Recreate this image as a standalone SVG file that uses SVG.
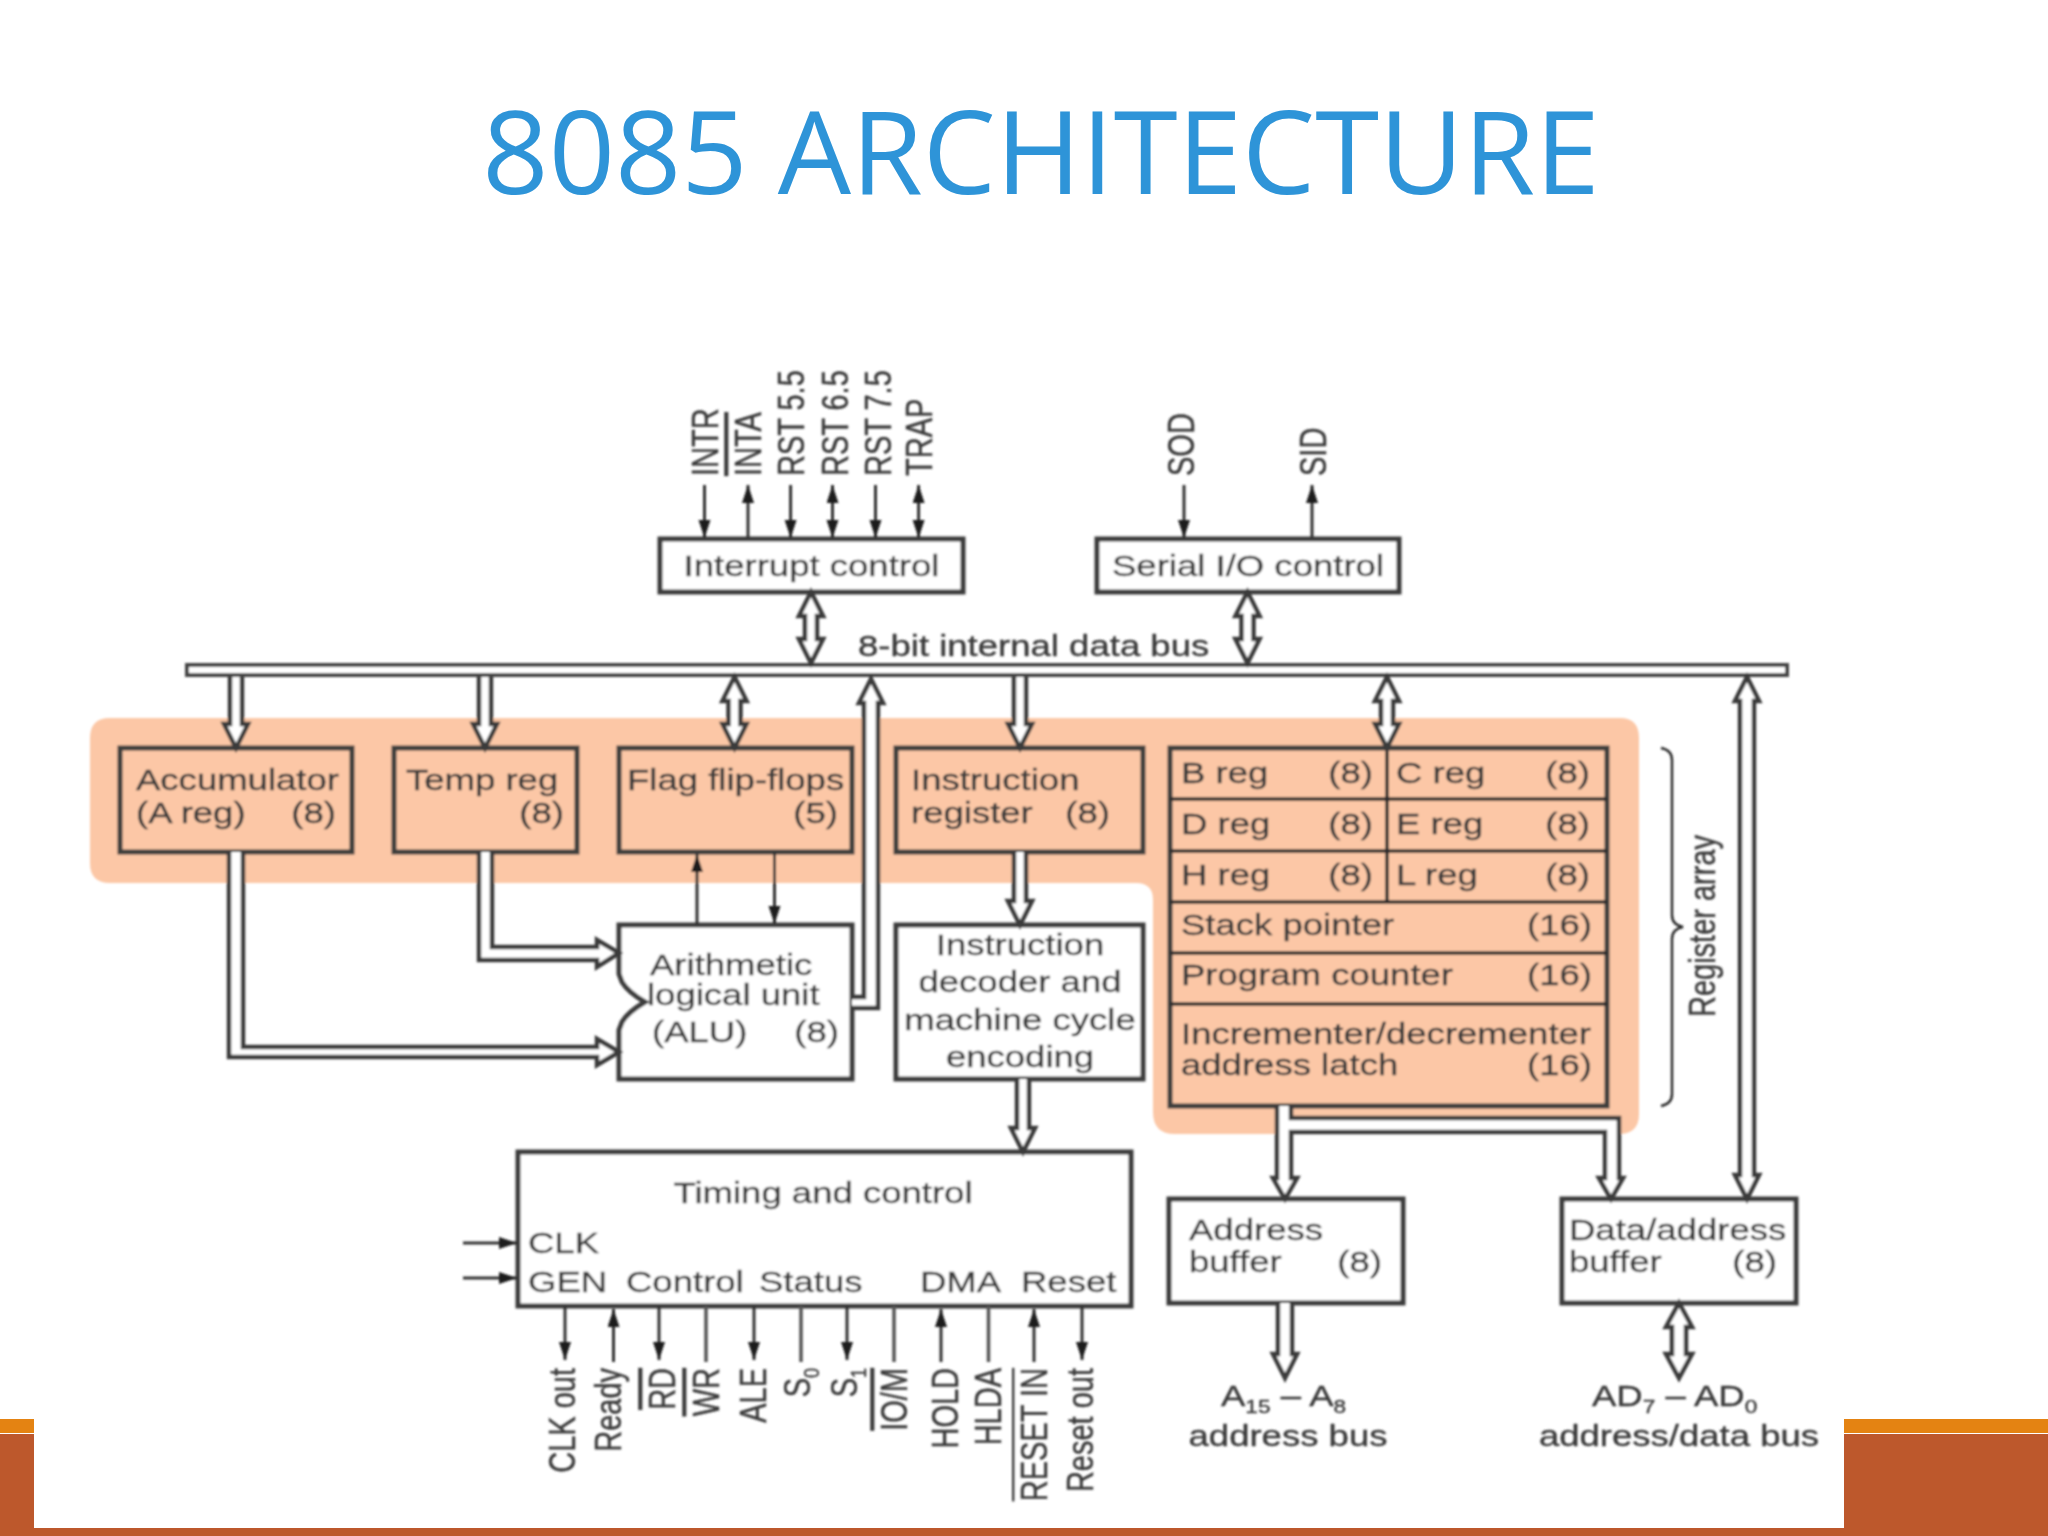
<svg xmlns="http://www.w3.org/2000/svg" width="2048" height="1536" viewBox="0 0 2048 1536">
<style>
text{font-family:"Liberation Sans",Arial,sans-serif;font-size:29px;fill:#3a3a3a;stroke:#3a3a3a;stroke-width:.35}
.title{font-family:"Open Sans","Noto Sans",sans-serif;font-size:116px;fill:#2e94d8;stroke:none;text-anchor:middle}
.e{text-anchor:end}
.m{text-anchor:middle}
.sub{font-size:18px}
.ob{text-decoration:overline}
.box{stroke:#3c3c3c;stroke-width:5}
.peach{fill:#fcc7a6}
.white{fill:#fff}
.line{fill:none;stroke:#2c2c2c;stroke-width:2.500}
.thin{fill:none;stroke:#333;stroke-width:3;marker-end:url(#ah)}
.both{marker-start:url(#ah)}
.plain{fill:none;stroke:#555;stroke-width:3.500}
.hollow{fill:#fff;stroke:#3a3a3a;stroke-width:4.500;stroke-linejoin:miter}
.band-a{fill:#e48312}
.band-b{fill:#bd582c}
</style>
<defs>
<marker id="ah" markerUnits="userSpaceOnUse" markerWidth="20" markerHeight="14" refX="18" refY="6" orient="auto-start-reverse"><path d="M0,0L18,6L0,12z" fill="#1c1c1c"/></marker>
<filter id="soft" x="0" y="0" width="2048" height="1536" filterUnits="userSpaceOnUse"><feGaussianBlur stdDeviation="1"/></filter>
</defs>
<rect width="2048" height="1536" fill="#fff"/>
<g id="slide-bands">
<rect class="band-a" x="0" y="1419" width="34" height="14"/>
<rect class="band-a" x="1844" y="1419" width="204" height="14"/>
<rect class="band-b" x="0" y="1434" width="34" height="102"/>
<rect class="band-b" x="1844" y="1434" width="204" height="102"/>
<rect class="band-b" x="0" y="1528" width="2048" height="8"/>
</g>
<text id="title" class="title" x="1041" y="194">8085 ARCHITECTURE</text>
<g id="diagram" filter="url(#soft)">
<path id="highlight" class="peach" d="M110,718H1620Q1639,718 1639,738V1114Q1639,1134 1619,1134H1175Q1153,1134 1153,1112V900Q1153,883 1136,883H110Q90,883 90,863V738Q90,718 110,718Z"/>

<g id="interrupt-control">
<rect class="box white" x="660" y="539" width="303" height="53"/>
<text transform="translate(811.500 576) scale(1.26 1)" class="m">Interrupt control</text>
</g>
<g id="serial-io-control">
<rect class="box white" x="1097" y="539" width="302" height="53"/>
<text transform="translate(1248 576) scale(1.26 1)" class="m">Serial I/O control</text>
</g>
<g id="internal-data-bus">
<rect x="187" y="665" width="1600" height="10" fill="#fff" stroke="#444" stroke-width="4"/>
<text transform="translate(858 656) scale(1.26 1)">8-bit internal data bus</text>
</g>
<g id="accumulator">
<rect class="box peach" x="120" y="748" width="232" height="104"/>
<text transform="translate(136 790) scale(1.26 1)">Accumulator</text>
<text transform="translate(136 823) scale(1.26 1)">(A reg)</text>
<text transform="translate(336 823) scale(1.26 1)" class="e">(8)</text>
</g>
<g id="temp-reg">
<rect class="box peach" x="394" y="748" width="183" height="104"/>
<text transform="translate(406 790) scale(1.26 1)">Temp reg</text>
<text transform="translate(564 823) scale(1.26 1)" class="e">(8)</text>
</g>
<g id="flag-flip-flops">
<rect class="box peach" x="619" y="748" width="233" height="104"/>
<text transform="translate(627 790) scale(1.26 1)">Flag flip-flops</text>
<text transform="translate(838 823) scale(1.26 1)" class="e">(5)</text>
</g>
<g id="instruction-register">
<rect class="box peach" x="896" y="748" width="247" height="104"/>
<text transform="translate(911 790) scale(1.26 1)">Instruction</text>
<text transform="translate(911 823) scale(1.26 1)">register</text>
<text transform="translate(1110 823) scale(1.26 1)" class="e">(8)</text>
</g>
<g id="register-array">
<rect class="box peach" x="1170" y="748" width="437" height="358"/>
<path class="line" style="stroke-width:3.500" d="M1170,799H1607M1170,851H1607M1170,902H1607M1170,953H1607M1170,1004H1607M1387,748V902"/>
<text transform="translate(1181 783) scale(1.26 1)">B reg</text>
<text transform="translate(1373 783) scale(1.26 1)" class="e">(8)</text>
<text transform="translate(1396 783) scale(1.26 1)">C reg</text>
<text transform="translate(1590 783) scale(1.26 1)" class="e">(8)</text>
<text transform="translate(1181 834) scale(1.26 1)">D reg</text>
<text transform="translate(1373 834) scale(1.26 1)" class="e">(8)</text>
<text transform="translate(1396 834) scale(1.26 1)">E reg</text>
<text transform="translate(1590 834) scale(1.26 1)" class="e">(8)</text>
<text transform="translate(1181 885) scale(1.26 1)">H reg</text>
<text transform="translate(1373 885) scale(1.26 1)" class="e">(8)</text>
<text transform="translate(1396 885) scale(1.26 1)">L reg</text>
<text transform="translate(1590 885) scale(1.26 1)" class="e">(8)</text>
<text transform="translate(1181 935) scale(1.26 1)">Stack pointer</text>
<text transform="translate(1592 935) scale(1.26 1)" class="e">(16)</text>
<text transform="translate(1181 985) scale(1.26 1)">Program counter</text>
<text transform="translate(1592 985) scale(1.26 1)" class="e">(16)</text>
<text transform="translate(1181 1044) scale(1.26 1)">Incrementer/decrementer</text>
<text transform="translate(1181 1075) scale(1.26 1)">address latch</text>
<text transform="translate(1592 1075) scale(1.26 1)" class="e">(16)</text>
</g>
<g id="register-array-brace">
<path class="line" d="M1661,748Q1672,750 1672,760V915Q1672,925 1683,927Q1672,929 1672,939V1094Q1672,1104 1661,1106"/>
<text transform="translate(1715 1017) scale(1.26 1) rotate(-90)">Register array</text>
</g>
<g id="alu">
<path class="box white" d="M619,925H852V1079H619V1030L622,1022Q628,1012 645,1002Q628,992 622,982L619,974Z"/>
<text transform="translate(650 975) scale(1.26 1)">Arithmetic</text>
<text transform="translate(647 1005) scale(1.26 1)">logical unit</text>
<text transform="translate(652 1042) scale(1.26 1)">(ALU)</text>
<text transform="translate(839 1042) scale(1.26 1)" class="e">(8)</text>
</g>
<g id="instruction-decoder">
<rect class="box white" x="896" y="925" width="247" height="154"/>
<text transform="translate(1020 955) scale(1.26 1)" class="m">Instruction</text>
<text transform="translate(1020 992) scale(1.26 1)" class="m">decoder and</text>
<text transform="translate(1020 1030) scale(1.26 1)" class="m">machine cycle</text>
<text transform="translate(1020 1067) scale(1.26 1)" class="m">encoding</text>
</g>
<g id="timing-and-control">
<rect class="box white" x="518" y="1152" width="613" height="154"/>
<text transform="translate(823 1203) scale(1.26 1)" class="m">Timing and control</text>
<text transform="translate(528 1253) scale(1.26 1)">CLK</text>
<text transform="translate(528 1292) scale(1.26 1)">GEN</text>
<text transform="translate(626 1292) scale(1.26 1)">Control</text>
<text transform="translate(759 1292) scale(1.26 1)">Status</text>
<text transform="translate(920 1292) scale(1.26 1)">DMA</text>
<text transform="translate(1021 1292) scale(1.26 1)">Reset</text>
</g>
<g id="address-buffer">
<rect class="box white" x="1169" y="1199" width="234" height="104"/>
<text transform="translate(1189 1240) scale(1.26 1)">Address</text>
<text transform="translate(1189 1272) scale(1.26 1)">buffer</text>
<text transform="translate(1382 1272) scale(1.26 1)" class="e">(8)</text>
</g>
<g id="data-address-buffer">
<rect class="box white" x="1562" y="1199" width="234" height="104"/>
<text transform="translate(1569 1240) scale(1.26 1)">Data/address</text>
<text transform="translate(1569 1272) scale(1.26 1)">buffer</text>
<text transform="translate(1777 1272) scale(1.26 1)" class="e">(8)</text>
</g>
<g id="address-bus-label">
<text transform="translate(1221 1406) scale(1.26 1)">A<tspan class="sub" dy="7">15</tspan><tspan dy="-7"> – A</tspan><tspan class="sub" dy="7">8</tspan></text>
<text transform="translate(1288 1446) scale(1.26 1)" class="m">address bus</text>
</g>
<g id="address-data-bus-label">
<text transform="translate(1592 1406) scale(1.26 1)">AD<tspan class="sub" dy="7">7</tspan><tspan dy="-7"> – AD</tspan><tspan class="sub" dy="7">0</tspan></text>
<text transform="translate(1679 1446) scale(1.26 1)" class="m">address/data bus</text>
</g>
<g id="interrupt-pins">
<text transform="translate(718 476) scale(1.26 1) rotate(-90)">INTR</text>
<text transform="translate(761 476) scale(1.26 1) rotate(-90)" class="ob">INTA</text>
<text transform="translate(804 476) scale(1.26 1) rotate(-90)">RST 5.5</text>
<text transform="translate(848 476) scale(1.26 1) rotate(-90)">RST 6.5</text>
<text transform="translate(891 476) scale(1.26 1) rotate(-90)">RST 7.5</text>
<text transform="translate(932 476) scale(1.26 1) rotate(-90)">TRAP</text>
</g>
<g id="serial-pins">
<text transform="translate(1194 476) scale(1.26 1) rotate(-90)">SOD</text>
<text transform="translate(1326 476) scale(1.26 1) rotate(-90)">SID</text>
</g>
<g id="control-pins">
<text transform="translate(575 1368) scale(1.26 1) rotate(-90)" class="e">CLK out</text>
<text transform="translate(621 1368) scale(1.26 1) rotate(-90)" class="e">Ready</text>
<text transform="translate(675 1368) scale(1.26 1) rotate(-90)" class="e ob">RD</text>
<text transform="translate(719 1368) scale(1.26 1) rotate(-90)" class="e ob">WR</text>
<text transform="translate(766 1368) scale(1.26 1) rotate(-90)" class="e">ALE</text>
<text transform="translate(810 1368) scale(1.26 1) rotate(-90)" class="e">S<tspan class="sub" dy="7">0</tspan></text>
<text transform="translate(857 1368) scale(1.26 1) rotate(-90)" class="e">S<tspan class="sub" dy="7">1</tspan></text>
<text transform="translate(907 1368) scale(1.26 1) rotate(-90)" class="e ob">IO/M</text>
<text transform="translate(958 1368) scale(1.26 1) rotate(-90)" class="e">HOLD</text>
<text transform="translate(1001 1368) scale(1.26 1) rotate(-90)" class="e">HLDA</text>
<text transform="translate(1047 1368) scale(1.26 1) rotate(-90)" class="e ob">RESET IN</text>
<text transform="translate(1093 1368) scale(1.26 1) rotate(-90)" class="e">Reset out</text>
</g>

<g id="connectors">
<path class="thin" d="M704.500,485V538"/>
<path class="thin" d="M748,538V485"/>
<path class="thin" d="M790.600,485V538"/>
<path class="thin both" d="M832.500,485V538"/>
<path class="thin" d="M875.500,485V538"/>
<path class="thin both" d="M918.600,485V538"/>
<path class="thin" d="M1184,485V538"/>
<path class="thin" d="M1312,538V485"/>
<path class="thin" d="M463,1243H517"/>
<path class="thin" d="M463,1278H517"/>
<path class="thin" d="M697,925V854"/>
<path class="thin" d="M774.500,852V924"/>
<path class="thin" d="M565,1306V1360"/>
<path class="thin" d="M613.500,1362V1309"/>
<path class="thin" d="M659,1306V1360"/>
<path class="plain" d="M706,1306V1362"/>
<path class="thin" d="M754,1306V1360"/>
<path class="plain" d="M801,1306V1362"/>
<path class="thin" d="M847,1306V1360"/>
<path class="plain" d="M894,1306V1362"/>
<path class="thin" d="M941,1362V1309"/>
<path class="plain" d="M988.500,1306V1362"/>
<path class="thin" d="M1034,1362V1309"/>
<path class="thin" d="M1082,1306V1360"/>

<path class="hollow" d="M811,592l12,24h-6V639h6l-12,24l-12,-24h6V616h-6z"/>
<path class="hollow" d="M1247.500,592l12,24h-6V639h6l-12,24l-12,-24h6V616h-6z"/>
<path class="hollow" d="M230,677V724H224L236,748L248,724H242V677"/>
<path class="hollow" d="M479,677V724H473L485,748L497,724H491V677"/>
<path class="hollow" d="M734.500,677l12,24h-6V724h6l-12,24l-12,-24h6V701h-6z"/>
<path class="hollow" d="M1014,677V724H1008L1020,748L1032,724H1026V677"/>
<path class="hollow" d="M1387,677l12,24h-6V724h6l-12,24l-12,-24h6V701h-6z"/>
<path class="hollow" d="M1747,677l12,24h-5V1175h5l-12,24l-12,-24h5V701h-5z"/>
<path class="hollow" d="M852,997H864V703H859L871,679L883,703H878V1008H852"/>
<path class="hollow" d="M229,852V1057H597V1065L619,1052L597,1039V1047H243V852"/>
<path class="hollow" d="M479,852V960H597V967L619,953L597,940V947H492V852"/>
<path class="hollow" d="M1014,852V901H1008L1020,925L1032,901H1026V852"/>
<path class="hollow" d="M1017,1079V1128H1011L1023,1152L1035,1128H1029V1079"/>
<path class="hollow" d="M1277,1106V1178H1273L1285,1199L1297,1178H1291V1132H1605V1178H1599L1611,1199L1623,1178H1619V1118H1291V1106"/>
<path class="hollow" d="M1278,1303V1354H1273L1285,1378L1297,1354H1292V1303"/>
<path class="hollow" d="M1679,1303l13,24h-6V1354h6l-13,24l-13,-24h6V1327h-6z"/>
</g>
</g>
</svg>
